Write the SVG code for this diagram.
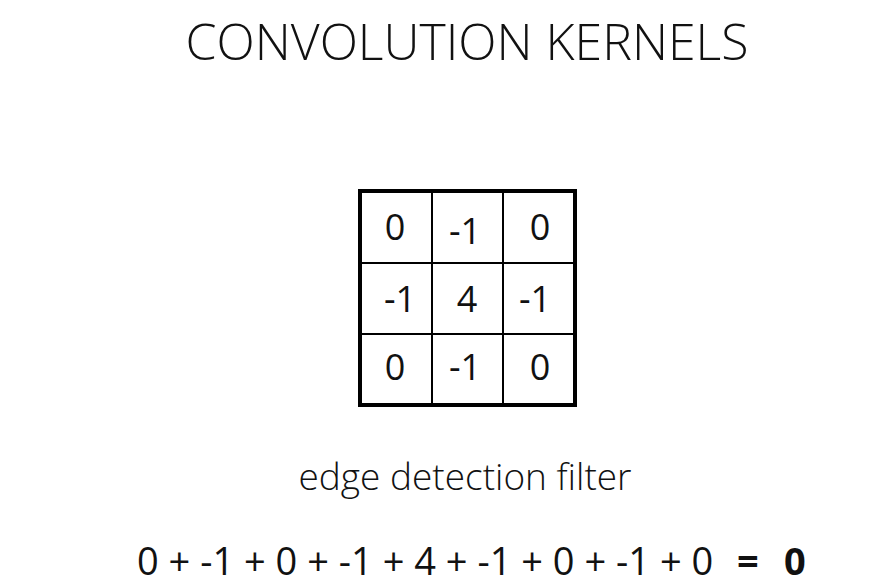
<svg xmlns="http://www.w3.org/2000/svg" width="873" height="588" viewBox="0 0 873 588">
<style>
text{font-family:"Open Sans","Noto Sans","Liberation Sans",sans-serif;fill:#111}
.title{font-size:50px;font-weight:300}
.cell{font-size:36px;text-anchor:middle}
.cap{font-size:37px;font-weight:300}
.eq{font-size:38px}
.grid line{stroke:#000;stroke-width:2}
</style>
<rect width="873" height="588" fill="#fff"/>
<text id="title" class="title" x="467" y="60" text-anchor="middle">CONVOLUTION KERNELS</text>
<g id="kernel" class="grid">
<line x1="432" y1="189" x2="432" y2="407"/>
<line x1="503" y1="189" x2="503" y2="407"/>
<line x1="358" y1="263" x2="577" y2="263"/>
<line x1="358" y1="334" x2="577" y2="334"/>
<rect x="360" y="191" width="215" height="214" fill="none" stroke="#000" stroke-width="4"/>
<text class="cell" x="395" y="240">0</text>
<text class="cell" x="465" y="244">-1</text>
<text class="cell" x="540" y="240">0</text>
<text class="cell" x="400" y="312">-1</text>
<text class="cell" x="467" y="312">4</text>
<text class="cell" x="535" y="312">-1</text>
<text class="cell" x="395" y="380">0</text>
<text class="cell" x="465" y="380">-1</text>
<text class="cell" x="540" y="380">0</text>
</g>
<text id="caption" class="cap" x="465" y="490" text-anchor="middle">edge detection filter</text>
<g id="equation">
<text class="eq" x="137" y="575">0 + -1 + 0 + -1 + 4 + -1 + 0 + -1 + 0</text>
<text class="eq" x="737" y="575" font-weight="700">=</text>
<text class="eq" x="784" y="575" font-weight="700">0</text>
</g>
</svg>
